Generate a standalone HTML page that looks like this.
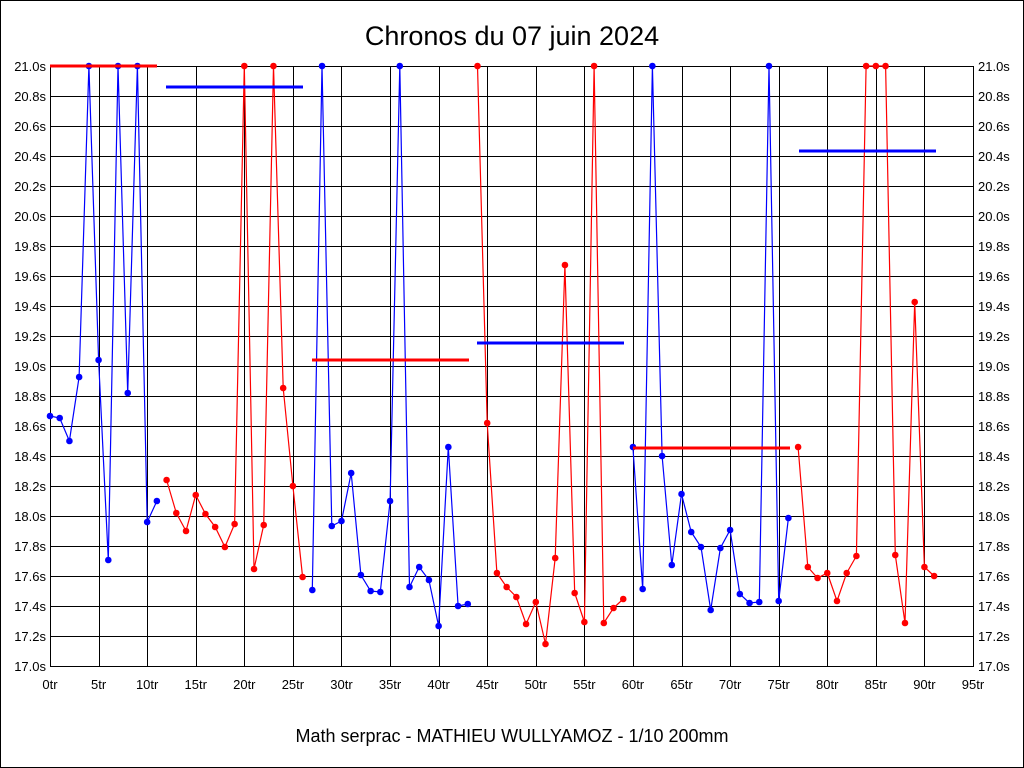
<!DOCTYPE html>
<html><head><meta charset="utf-8"><style>
html,body{margin:0;padding:0;background:#fff}
svg{display:block}
text{font-family:"Liberation Sans",sans-serif}
</style></head><body>
<svg id="s" width="1024" height="768" xmlns="http://www.w3.org/2000/svg"></svg>
<script>
const s=document.getElementById('s');let h='';
h+='<rect x="0.5" y="0.5" width="1023" height="767" fill="#fff" stroke="#000"/>';
h+='<text x="512" y="45" font-size="27" text-anchor="middle">Chronos du 07 juin 2024</text>';
h+='<text x="512" y="742" font-size="18" text-anchor="middle">Math serprac - MATHIEU WULLYAMOZ - 1/10 200mm</text>';
const X0=50,X1=973,Y0=66,Y1=666,dx=(X1-X0)/95;
for(let i=0;i<=20;i++){const y=Y0+i*30;const v=(21-i*0.2).toFixed(1)+'s';
h+=`<line x1="${X0}" x2="${X1+1}" y1="${y+0.5}" y2="${y+0.5}" stroke="#000"/>`;
h+=`<text x="${X0-4}" y="${y+5}" font-size="13" text-anchor="end">${v}</text>`;
h+=`<text x="${X1+5}" y="${y+5}" font-size="13">${v}</text>`;}
for(let i=0;i<=19;i++){const x=X0+i*5*dx;const xr=Math.round(x)+0.5;
h+=`<line x1="${xr}" x2="${xr}" y1="${Y0}" y2="${Y1+1}" stroke="#000"/>`;
h+=`<text x="${x}" y="${Y1+23}" font-size="13" text-anchor="middle">${i*5}tr</text>`;}
const Y=[416,418,441,377,66,360,560,66,393,66,522,501,
480,513,531,495,514,527,547,524,66,569,525,66,388,486,577,
590,66,526,521,473,575,591,592,501,66,587,567,580,626,447,606,604,
66,423,573,587,597,624,602,644,558,265,593,622,66,623,608,599,
447,589,66,456,565,494,532,547,610,548,530,594,603,602,66,601,518,
447,567,578,573,601,573,556,66,66,66,555,623,302,567,576];
const segs=[[0,11,'#00f'],[12,26,'#f00'],[27,43,'#00f'],[44,59,'#f00'],[60,76,'#00f'],[77,91,'#f00']];
for(const [a,b,c] of segs){let p=[];for(let i=a;i<=b;i++)p.push((X0+i*dx).toFixed(1)+','+Y[i]);
h+=`<polyline points="${p.join(' ')}" fill="none" stroke="${c}" stroke-width="1.2"/>`;
for(let i=a;i<=b;i++)h+=`<circle cx="${X0+i*dx}" cy="${Y[i]}" r="3.3" fill="${c}"/>`;}
const bars=[[50,157,66,'#f00'],[166,303,87,'#00f'],[312,469,360,'#f00'],[477,624,343,'#00f'],[633,790,448,'#f00'],[799,936,151,'#00f']];
for(const [a,b,y,c] of bars)h+=`<line x1="${a}" x2="${b}" y1="${y}" y2="${y}" stroke="${c}" stroke-width="3"/>`;
s.innerHTML=h;
</script>
</body></html>
